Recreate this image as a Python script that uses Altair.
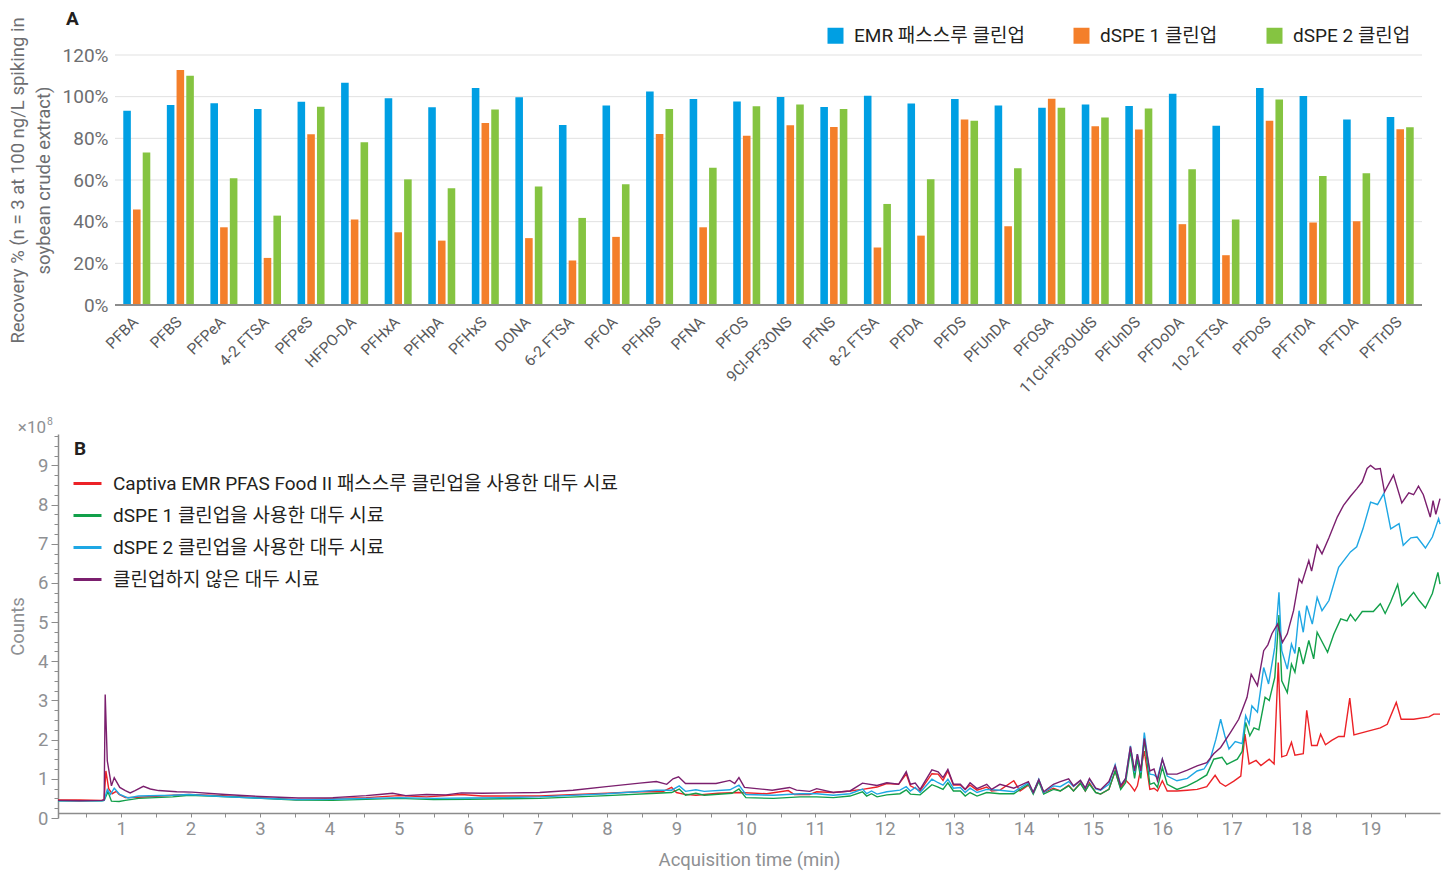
import altair as alt
import pandas as pd

FONT = "Roboto, 'Noto Sans CJK KR', sans-serif"

# ---------------- Panel A data ----------------
compounds = ["PFBA", "PFBS", "PFPeA", "4-2 FTSA", "PFPeS", "HFPO-DA", "PFHxA", "PFHpA",
             "PFHxS", "DONA", "6-2 FTSA", "PFOA", "PFHpS", "PFNA", "PFOS", "9Cl-PF3ONS",
             "PFNS", "8-2 FTSA", "PFDA", "PFDS", "PFUnDA", "PFOSA", "11Cl-PF3OUdS",
             "PFUnDS", "PFDoDA", "10-2 FTSA", "PFDoS", "PFTrDA", "PFTDA", "PFTrDS"]
emr = [93.3, 96.0, 96.8, 94.1, 97.6, 106.7, 99.2, 94.9, 104.2, 99.7, 86.4, 95.8, 102.5,
       98.9, 97.7, 99.8, 95.0, 100.5, 96.7, 98.9, 95.8, 94.7, 96.2, 95.5, 101.4, 86.0,
       104.2, 100.3, 89.0, 90.3]
dspe1 = [45.8, 112.8, 37.3, 22.6, 82.0, 41.0, 34.9, 30.9, 87.4, 32.1, 21.4, 32.7, 82.1,
         37.3, 81.2, 86.3, 85.5, 27.6, 33.3, 89.1, 37.8, 99.0, 85.8, 84.2, 38.8, 23.9,
         88.5, 39.6, 40.2, 84.4]
dspe2 = [73.2, 110.0, 60.8, 42.9, 95.2, 78.1, 60.3, 56.0, 93.8, 56.9, 41.8, 58.0, 94.1,
         65.9, 95.4, 96.2, 94.1, 48.5, 60.4, 88.5, 65.6, 94.7, 90.0, 94.3, 65.2, 41.0,
         98.6, 61.9, 63.2, 85.3]
bar_series = ["EMR 패스스루 클린업", "dSPE 1 클린업", "dSPE 2 클린업"]
bar_colors = ["#009fe3", "#f47f2a", "#85c441"]
y_ticks_a = [0, 20, 40, 60, 80, 100, 120]

# ---------------- Panel B data (counts x10^8 vs minutes) ----------------
t_red = [0.09, 0.4, 0.72, 0.755, 0.78, 0.82, 0.87, 0.93, 0.97, 1.06, 1.25, 1.45, 1.74, 1.98,
         2.46, 2.94, 3.52, 4.05, 4.53, 5.0, 5.4, 5.9, 6.2, 6.6, 7.03, 8.0, 8.47, 8.8, 8.93,
         9.0, 9.1, 9.28, 9.6, 9.9, 10.3, 10.61, 10.7, 10.92, 11.02, 11.26, 11.5, 11.68,
         11.89, 12.03, 12.2, 12.31, 12.37, 12.51, 12.68, 12.77, 12.84, 12.91, 12.99, 13.09,
         13.16, 13.23, 13.33, 13.47, 13.54, 13.66, 13.86, 13.95, 14.07, 14.14, 14.22, 14.29,
         14.43, 14.53, 14.65, 14.72, 14.82, 14.89, 14.95, 15.04, 15.11, 15.23, 15.32, 15.4,
         15.47, 15.54, 15.6, 15.64, 15.74, 15.82, 15.88, 15.93, 16.0, 16.07, 16.21, 16.36,
         16.5, 16.64, 16.76, 16.83, 16.91, 17.03, 17.13, 17.19, 17.25, 17.35, 17.42, 17.54,
         17.61, 17.67, 17.72, 17.79, 17.86, 17.91, 18.03, 18.08, 18.15, 18.23, 18.28, 18.35,
         18.44, 18.54, 18.62, 18.7, 18.76, 18.95, 19.14, 19.24, 19.37, 19.44, 19.62, 19.84,
         19.91, 20.0]
v_red = [0.46, 0.46, 0.45, 0.47, 1.2, 0.75, 0.62, 0.68, 0.6, 0.52, 0.53, 0.55, 0.58, 0.6,
         0.57, 0.52, 0.47, 0.5, 0.52, 0.57, 0.54, 0.6, 0.56, 0.56, 0.56, 0.63, 0.67, 0.67, 0.78,
         0.65, 0.61, 0.58, 0.63, 0.65, 0.62, 0.7, 0.6, 0.6, 0.67, 0.65, 0.69, 0.73,
         0.79, 0.88, 0.86, 1.12, 0.82, 0.69, 1.13, 1.12, 0.96, 1.2, 0.84, 0.84,
         0.73, 0.84, 0.71, 0.79, 0.69, 0.71, 0.95, 0.69, 0.84, 0.65, 0.95, 0.65,
         0.76, 0.69, 0.84, 0.69, 0.9, 0.69, 0.9, 0.65, 0.61, 0.73, 1.2, 0.76,
         0.97, 0.84, 0.69, 0.82, 1.71, 0.73, 0.76, 0.69, 0.95, 0.69, 0.69, 0.71,
         0.73, 0.8, 1.09, 0.9, 0.81, 0.94, 1.07, 2.14, 1.38, 1.47, 1.34, 1.5,
         1.38, 3.97, 1.56, 1.6, 1.93, 1.6, 1.64, 2.75, 1.85, 1.85, 2.14, 1.87,
         1.98, 2.08, 2.08, 3.06, 2.12, 2.21, 2.3, 2.39, 2.95, 2.52, 2.52, 2.58,
         2.65, 2.65]

t_green = [0.09, 0.72, 0.755, 0.81, 0.86, 0.97, 1.06, 1.25, 1.74, 1.98, 2.46, 2.94, 3.52,
           4.05, 5.0, 5.5, 6.0, 6.5, 7.03, 8.0, 8.71, 8.93, 9.04, 9.13, 9.28, 9.4, 9.8, 9.9,
           10.0, 10.4, 10.78, 11.02, 11.26, 11.5, 11.68, 11.74, 11.81, 11.89, 12.03, 12.22,
           12.31, 12.37, 12.51, 12.68, 12.77, 12.84, 12.91, 12.99, 13.09, 13.16, 13.23, 13.33,
           13.47, 13.66, 13.86, 14.07, 14.14, 14.22, 14.29, 14.43, 14.53, 14.65, 14.72, 14.82,
           14.89, 14.95, 15.04, 15.11, 15.23, 15.32, 15.4, 15.47, 15.54, 15.6, 15.64, 15.69,
           15.74, 15.82, 15.88, 15.93, 16.0, 16.07, 16.21, 16.36, 16.5, 16.64, 16.74, 16.86,
           16.93, 17.08, 17.15, 17.2, 17.26, 17.32, 17.39, 17.48, 17.54, 17.62, 17.68, 17.72,
           17.8, 17.86, 17.91, 17.97, 18.03, 18.11, 18.18, 18.23, 18.38, 18.47, 18.57, 18.66,
           18.71, 18.78, 18.88, 19.04, 19.14, 19.21, 19.29, 19.39, 19.45, 19.52, 19.62, 19.7,
           19.79, 19.89, 19.97, 20.0]
v_green = [0.44, 0.44, 0.45, 0.67, 0.43, 0.42, 0.45, 0.5, 0.54, 0.58, 0.55, 0.51, 0.46,
           0.45, 0.5, 0.47, 0.48, 0.49, 0.5, 0.57, 0.63, 0.65, 0.74, 0.58, 0.63, 0.58, 0.63, 0.74,
           0.52, 0.5, 0.54, 0.54, 0.52, 0.56, 0.67, 0.56, 0.62, 0.54, 0.59, 0.62,
           0.72, 0.61, 0.59, 0.85, 0.79, 0.73, 0.9, 0.69, 0.69, 0.56, 0.65, 0.56,
           0.65, 0.62, 0.62, 0.86, 0.61, 0.93, 0.61, 0.73, 0.69, 0.82, 0.69, 0.88,
           0.69, 0.86, 0.65, 0.61, 0.73, 1.2, 0.73, 0.9, 1.71, 1.01, 1.5, 1.01,
           2.01, 0.86, 0.9, 0.78, 1.29, 0.86, 0.73, 0.82, 0.95, 1.1, 1.5, 1.55,
           1.37, 1.5, 1.7, 2.44, 2.1, 2.3, 2.25, 3.08, 3.0, 3.59, 5.18, 3.5,
           3.2, 3.93, 3.72, 4.36, 3.93, 4.53, 4.06, 4.74, 4.23, 4.69, 5.08, 5.03,
           5.2, 5.03, 5.27, 5.27, 5.47, 5.22, 5.52, 5.96, 5.42, 5.55, 5.76, 5.55,
           5.36, 5.73, 6.27, 5.97]

t_blue = [0.09, 0.72, 0.755, 0.8, 0.845, 0.9, 0.98, 1.1, 1.25, 1.74, 1.98, 2.46, 2.94, 3.52,
          4.05, 5.0, 5.5, 6.0, 6.5, 7.03, 8.0, 8.71, 8.93, 9.04, 9.13, 9.28, 9.4, 9.77, 9.9,
          10.0, 10.4, 10.78, 11.02, 11.26, 11.5, 11.68, 11.74, 11.81, 11.89, 12.03, 12.22,
          12.31, 12.37, 12.44, 12.51, 12.68, 12.77, 12.84, 12.91, 12.99, 13.09, 13.16, 13.23,
          13.33, 13.47, 13.66, 13.86, 14.07, 14.14, 14.22, 14.29, 14.43, 14.53, 14.65, 14.72,
          14.82, 14.89, 14.95, 15.04, 15.11, 15.23, 15.32, 15.4, 15.47, 15.54, 15.6, 15.64,
          15.69, 15.74, 15.82, 15.88, 15.93, 16.0, 16.07, 16.21, 16.36, 16.5, 16.6, 16.69,
          16.77, 16.84, 16.9, 16.96, 17.05, 17.15, 17.2, 17.25, 17.29, 17.37, 17.46, 17.53,
          17.62, 17.68, 17.72, 17.8, 17.86, 17.91, 17.97, 18.03, 18.08, 18.16, 18.23, 18.3,
          18.4, 18.54, 18.71, 18.8, 18.89, 19.0, 19.1, 19.19, 19.29, 19.41, 19.47, 19.58,
          19.67, 19.79, 19.89, 19.98, 20.0]
v_blue = [0.44, 0.44, 0.45, 0.73, 0.6, 0.76, 0.6, 0.51, 0.56, 0.58, 0.6, 0.55, 0.51, 0.47,
          0.48, 0.52, 0.5, 0.51, 0.52, 0.54, 0.62, 0.71, 0.71, 0.82, 0.68, 0.72, 0.68, 0.72, 0.84,
          0.6, 0.58, 0.62, 0.62, 0.58, 0.62, 0.74, 0.62, 0.69, 0.61, 0.67, 0.71,
          0.8, 0.69, 0.78, 0.65, 0.99, 0.9, 0.84, 0.99, 0.76, 0.78, 0.65, 0.76,
          0.65, 0.73, 0.71, 0.67, 0.9, 0.65, 0.99, 0.65, 0.82, 0.8, 0.93, 0.8,
          0.95, 0.76, 0.99, 0.74, 0.71, 0.86, 1.36, 0.84, 1.0, 1.84, 1.16, 1.63,
          1.16, 2.18, 1.12, 1.1, 1.03, 1.5, 1.07, 0.95, 1.01, 1.2, 1.25, 1.5,
          2.0, 2.52, 2.1, 1.76, 1.95, 1.9, 2.61, 2.4, 2.86, 2.7, 3.84, 3.42,
          4.36, 5.76, 4.27, 3.8, 4.44, 4.2, 5.29, 4.74, 5.42, 4.95, 5.63, 5.29,
          5.55, 6.4, 6.79, 6.92, 7.38, 8.06, 8.0, 8.28, 7.38, 7.51, 6.96, 7.15,
          7.17, 6.89, 7.17, 7.64, 7.5]

t_purple = [0.09, 0.4, 0.72, 0.755, 0.77, 0.8, 0.86, 0.9, 0.98, 1.06, 1.13, 1.2, 1.32, 1.42,
            1.54, 1.8, 2.02, 2.5, 3.0, 3.55, 4.05, 4.53, 4.72, 4.91, 5.1, 5.4, 5.68, 5.9, 6.2,
            6.6, 7.03, 7.51, 7.99, 8.47, 8.71, 8.86, 8.95, 9.03, 9.13, 9.28, 9.57, 9.77, 9.84,
            9.9, 9.98, 10.38, 10.63, 10.73, 10.92, 11.02, 11.26, 11.5, 11.68, 11.89, 12.03,
            12.2, 12.31, 12.37, 12.44, 12.51, 12.68, 12.77, 12.84, 12.91, 12.99, 13.09, 13.16,
            13.23, 13.33, 13.47, 13.54, 13.66, 13.86, 14.07, 14.14, 14.22, 14.29, 14.43, 14.53,
            14.65, 14.72, 14.82, 14.89, 14.95, 15.04, 15.11, 15.23, 15.32, 15.4, 15.47, 15.54,
            15.6, 15.64, 15.69, 15.74, 15.82, 15.88, 15.93, 16.0, 16.07, 16.21, 16.36, 16.5,
            16.64, 16.74, 16.84, 16.98, 17.1, 17.22, 17.28, 17.37, 17.46, 17.52, 17.58, 17.66,
            17.73, 17.8, 17.89, 17.97, 18.01, 18.11, 18.15, 18.23, 18.3, 18.4, 18.52, 18.61,
            18.71, 18.8, 18.88, 18.95, 19.0, 19.07, 19.14, 19.2, 19.33, 19.45, 19.55, 19.62,
            19.69, 19.76, 19.86, 19.9, 19.94, 20.0]
v_purple = [0.45, 0.44, 0.45, 0.46, 3.15, 1.46, 0.82, 1.03, 0.78, 0.7, 0.64, 0.7, 0.81, 0.74,
            0.7, 0.67, 0.66, 0.6, 0.55, 0.51, 0.52, 0.57, 0.6, 0.63, 0.57, 0.6, 0.59, 0.64, 0.63,
            0.64, 0.65, 0.71, 0.8, 0.89, 0.93, 0.86, 1.0, 1.05, 0.88, 0.88, 0.88, 0.96, 0.88,
            1.03, 0.78, 0.71, 0.78, 0.71, 0.68, 0.75, 0.65, 0.69, 0.89, 0.83, 0.9,
            0.86, 1.18, 0.86, 0.89, 0.73, 1.23, 1.18, 1.03, 1.24, 0.86, 0.86, 0.73,
            0.9, 0.75, 0.86, 0.73, 0.86, 0.76, 0.93, 0.65, 0.98, 0.67, 0.86, 0.93,
            1.0, 0.82, 0.96, 0.76, 1.01, 0.76, 0.72, 0.93, 1.33, 0.82, 1.01, 1.82,
            1.2, 1.63, 1.2, 2.03, 1.2, 1.25, 0.95, 1.5, 1.12, 1.12, 1.22, 1.33,
            1.41, 1.64, 1.8, 2.18, 2.52, 3.08, 3.67, 3.38, 4.27, 4.42, 4.71, 4.95,
            4.48, 4.7, 5.29, 6.1, 6.0, 6.57, 6.3, 6.96, 6.74, 7.15, 7.68, 7.98,
            8.21, 8.4, 8.58, 8.92, 9.0, 8.9, 8.92, 8.32, 8.75, 8.04, 8.3, 8.25,
            8.47, 8.25, 7.68, 8.1, 7.75, 8.15]

line_series = ["Captiva EMR PFAS Food II 패스스루 클린업을 사용한 대두 시료",
               "dSPE 1 클린업을 사용한 대두 시료",
               "dSPE 2 클린업을 사용한 대두 시료",
               "클린업하지 않은 대두 시료"]
line_colors = ["#ec2227", "#12a04a", "#1ea7e4", "#7b1f6e"]

# ---------------- build tables ----------------
bar_rows = []
for i, c in enumerate(compounds):
    for s, vals in zip(bar_series, [emr, dspe1, dspe2]):
        bar_rows.append({"compound": c, "series": s, "recovery": vals[i]})
bars_df = pd.DataFrame(bar_rows)
grid_df = pd.DataFrame({"recovery": y_ticks_a[1:]})
base_df = pd.DataFrame({"recovery": [0]})

line_rows = []
for s, ts, vs in zip(line_series, [t_red, t_green, t_blue, t_purple],
                     [v_red, v_green, v_blue, v_purple]):
    for k, (t, v) in enumerate(zip(ts, vs)):
        line_rows.append({"series": s, "time": t, "counts": v, "k": k})
lines_df = pd.DataFrame(line_rows)

GRAY = "#6d6e71"
LGRAY = "#8e9093"
DARK = "#231f20"

# Panel A's plot area is shifted right of panel B's by SHIFT px (the y axis follows it)
SHIFT = 57
A_W = 1364

y_a = alt.Y("recovery:Q", scale=alt.Scale(domain=[0, 120], nice=False),
            axis=alt.Axis(values=y_ticks_a, labelExpr="datum.value + '%'",
                          title=["Recovery % (n = 3 at 100 ng/L spiking in",
                                 "soybean crude extract)"],
                          titleFontSize=18.5, titleFontWeight="normal", titleColor=GRAY,
                          titleLineHeight=26, titlePadding=9,
                          labelFontSize=19, labelColor=GRAY, labelPadding=7,
                          ticks=False, tickSize=0, domain=False, grid=False,
                          offset=-SHIFT))

grid_a = alt.Chart(grid_df).mark_rule(color="#e1e1e1", strokeWidth=1).encode(
    y=y_a, x=alt.value(SHIFT), x2=alt.value(A_W))
base_a = alt.Chart(base_df).mark_rule(color="#8c8c8c", strokeWidth=2).encode(
    y=y_a, x=alt.value(SHIFT), x2=alt.value(A_W))

bars = alt.Chart(bars_df).mark_bar().encode(
    x=alt.X("compound:N", sort=compounds,
            scale=alt.Scale(range=[SHIFT, A_W], paddingInner=0.38, paddingOuter=0.19),
            axis=alt.Axis(title=None, labelAngle=-45, labelFontSize=15.5, labelColor="#58595b",
                          ticks=False, tickSize=0, labelPadding=9, labelOffset=-6,
                          domain=False)),
    xOffset=alt.XOffset("series:N", sort=bar_series,
                        scale=alt.Scale(paddingInner=0.22, paddingOuter=0)),
    y=y_a,
    color=alt.Color("series:N", sort=bar_series,
                    scale=alt.Scale(domain=bar_series, range=bar_colors),
                    legend=alt.Legend(title=None, orient="none", legendX=768, legendY=-29,
                                      direction="horizontal", symbolType="square",
                                      symbolSize=256, symbolStrokeWidth=0,
                                      labelFontSize=19, labelColor=DARK, labelOffset=9,
                                      labelLimit=600, columnPadding=47, padding=0)),
)
label_a = alt.Chart(pd.DataFrame({"t": ["A"]})).mark_text(
    fontSize=19, fontWeight="bold", align="left", baseline="middle", color=DARK
).encode(text="t:N", x=alt.value(8), y=alt.value(-36))
panel_a = alt.layer(grid_a, bars, base_a, label_a).properties(width=A_W, height=250)

# ---------------- Panel B ----------------
x_tick_vals = [0.5 * k for k in range(1, 40)]
y_tick_vals = [0.25 * k for k in range(0, 40)]

lines = alt.Chart(lines_df).mark_line(strokeWidth=1.4).encode(
    x=alt.X("time:Q", scale=alt.Scale(domain=[0.09, 20.0], nice=False, zero=False),
            axis=alt.Axis(values=x_tick_vals,
                          labelExpr="datum.value % 1 == 0 ? format(datum.value, 'd') : ''",
                          labelOverlap=False, labelFlush=False,
                          title="Acquisition time (min)", titleFontSize=18.5,
                          titleFontWeight="normal", titleColor=LGRAY, titlePadding=13,
                          labelFontSize=18.5, labelColor=LGRAY, labelPadding=2,
                          tickSize=4, tickColor="#8c8c8c", domainColor="#8c8c8c",
                          domainWidth=1.5, grid=False, offset=-5)),
    y=alt.Y("counts:Q", scale=alt.Scale(domain=[0, 9.8], nice=False),
            axis=alt.Axis(values=y_tick_vals,
                          labelExpr="datum.value % 1 == 0 ? format(datum.value, 'd') : ''",
                          labelOverlap=False, labelFlush=False,
                          title="Counts", titleFontSize=18.5, titleFontWeight="normal",
                          titleColor=LGRAY, titlePadding=10,
                          labelFontSize=18.5, labelColor=LGRAY, labelPadding=3,
                          tickSize={"condition": {"test": "datum.value % 1 == 0", "value": 7},
                                    "value": 4},
                          tickColor="#8c8c8c", domainColor="#8c8c8c", domainWidth=1.5,
                          grid=False)),
    color=alt.Color("series:N", sort=line_series,
                    scale=alt.Scale(domain=line_series, range=line_colors),
                    legend=alt.Legend(title=None, orient="none", legendX=14, legendY=34,
                                      direction="vertical", symbolType="stroke",
                                      symbolSize=784, symbolStrokeWidth=3,
                                      labelFontSize=19, labelColor=DARK, labelOffset=10,
                                      labelLimit=800, rowPadding=6, padding=0)),
    order="k:Q",
)
label_b = alt.Chart(pd.DataFrame({"t": ["B"]})).mark_text(
    fontSize=19, fontWeight="bold", align="left", baseline="middle", color=DARK
).encode(text="t:N", x=alt.value(16), y=alt.value(15))
exp_main = alt.Chart(pd.DataFrame({"t": ["×10"]})).mark_text(
    fontSize=17, align="right", baseline="middle", color=LGRAY
).encode(text="t:N", x=alt.value(-12), y=alt.value(-6))
exp_sup = alt.Chart(pd.DataFrame({"t": ["8"]})).mark_text(
    fontSize=10.5, align="left", baseline="middle", color=LGRAY
).encode(text="t:N", x=alt.value(-11), y=alt.value(-12))
panel_b = alt.layer(lines, label_b, exp_main, exp_sup).properties(width=1382, height=384)

chart = alt.vconcat(panel_a, panel_b, spacing=20).resolve_scale(color="independent").properties(
    padding={"top": 2, "bottom": 4, "left": 0, "right": 0}, background="white"
).configure(font=FONT).configure_view(stroke=None)

chart.save("out.html", embed_options={"renderer": "svg", "actions": False})
